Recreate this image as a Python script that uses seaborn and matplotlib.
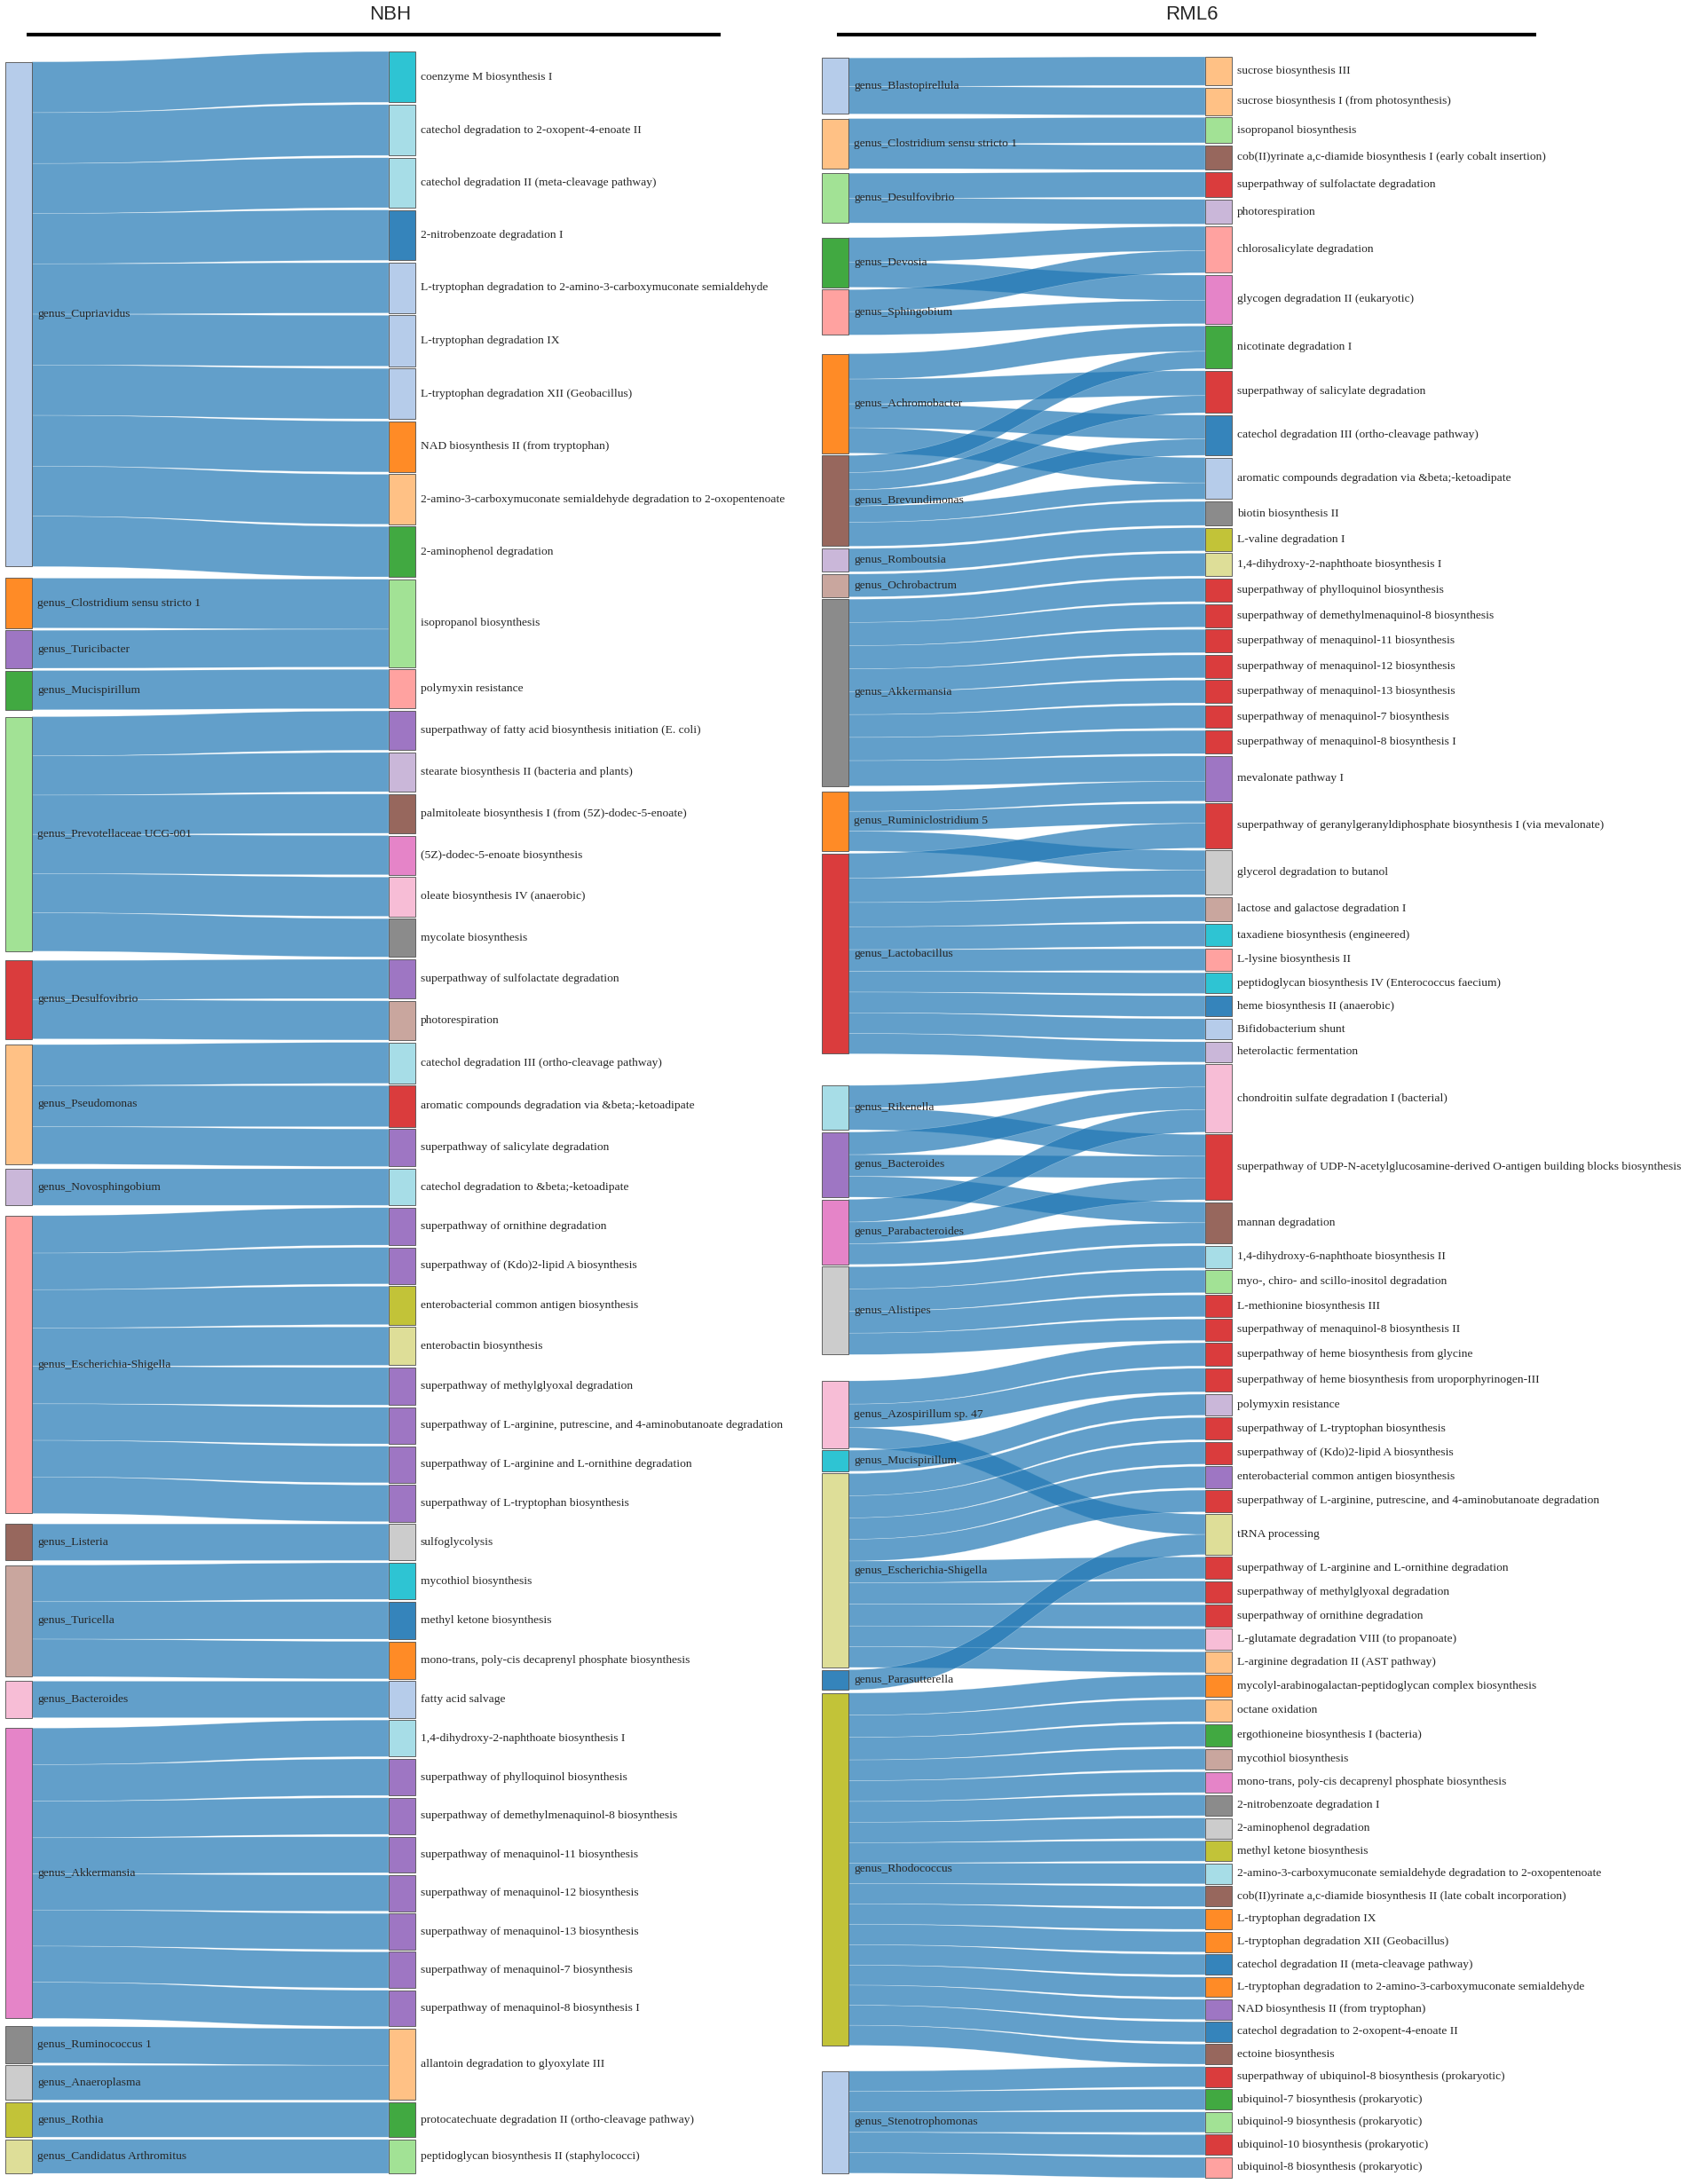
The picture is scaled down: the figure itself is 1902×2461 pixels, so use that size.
import numpy as np
import matplotlib
matplotlib.use("Agg")
import matplotlib.pyplot as plt
from matplotlib.path import Path
from matplotlib.patches import PathPatch, Rectangle
import seaborn as sns

# ---------------- NBH panel data ----------------
nbh_sources = [
    "genus_Cupriavidus", "genus_Clostridium sensu stricto 1", "genus_Turicibacter",
    "genus_Mucispirillum", "genus_Prevotellaceae UCG-001", "genus_Desulfovibrio",
    "genus_Pseudomonas", "genus_Novosphingobium", "genus_Escherichia-Shigella",
    "genus_Listeria", "genus_Turicella", "genus_Bacteroides", "genus_Akkermansia",
    "genus_Ruminococcus 1", "genus_Anaeroplasma", "genus_Rothia",
    "genus_Candidatus Arthromitus",
]
nbh_targets = [
    "coenzyme M biosynthesis I",
    "catechol degradation to 2-oxopent-4-enoate II",
    "catechol degradation II (meta-cleavage pathway)",
    "2-nitrobenzoate degradation I",
    "L-tryptophan degradation to 2-amino-3-carboxymuconate semialdehyde",
    "L-tryptophan degradation IX",
    "L-tryptophan degradation XII (Geobacillus)",
    "NAD biosynthesis II (from tryptophan)",
    "2-amino-3-carboxymuconate semialdehyde degradation to 2-oxopentenoate",
    "2-aminophenol degradation",
    "isopropanol biosynthesis",
    "polymyxin resistance",
    "superpathway of fatty acid biosynthesis initiation (E. coli)",
    "stearate biosynthesis II (bacteria and plants)",
    "palmitoleate biosynthesis I (from (5Z)-dodec-5-enoate)",
    "(5Z)-dodec-5-enoate biosynthesis",
    "oleate biosynthesis IV (anaerobic)",
    "mycolate biosynthesis",
    "superpathway of sulfolactate degradation",
    "photorespiration",
    "catechol degradation III (ortho-cleavage pathway)",
    "aromatic compounds degradation via &beta;-ketoadipate",
    "superpathway of salicylate degradation",
    "catechol degradation to &beta;-ketoadipate",
    "superpathway of ornithine degradation",
    "superpathway of (Kdo)2-lipid A biosynthesis",
    "enterobacterial common antigen biosynthesis",
    "enterobactin biosynthesis",
    "superpathway of methylglyoxal degradation",
    "superpathway of L-arginine, putrescine, and 4-aminobutanoate degradation",
    "superpathway of L-arginine and L-ornithine degradation",
    "superpathway of L-tryptophan biosynthesis",
    "sulfoglycolysis",
    "mycothiol biosynthesis",
    "methyl ketone biosynthesis",
    "mono-trans, poly-cis decaprenyl phosphate biosynthesis",
    "fatty acid salvage",
    "1,4-dihydroxy-2-naphthoate biosynthesis I",
    "superpathway of phylloquinol biosynthesis",
    "superpathway of demethylmenaquinol-8 biosynthesis",
    "superpathway of menaquinol-11 biosynthesis",
    "superpathway of menaquinol-12 biosynthesis",
    "superpathway of menaquinol-13 biosynthesis",
    "superpathway of menaquinol-7 biosynthesis",
    "superpathway of menaquinol-8 biosynthesis I",
    "allantoin degradation to glyoxylate III",
    "protocatechuate degradation II (ortho-cleavage pathway)",
    "peptidoglycan biosynthesis II (staphylococci)",
]
# (source index, target index, value)
nbh_links = [
    (0, 0, 57), (0, 1, 57), (0, 2, 56), (0, 3, 56.5), (0, 4, 56.5),
    (0, 5, 57), (0, 6, 56.5), (0, 7, 57), (0, 8, 56), (0, 9, 56.5),
    (1, 10, 56), (2, 10, 42.5),
    (3, 11, 44),
    (4, 12, 44), (4, 13, 44), (4, 14, 44), (4, 15, 44), (4, 16, 44), (4, 17, 43),
    (5, 18, 44), (5, 19, 44),
    (6, 20, 46), (6, 21, 46), (6, 22, 42),
    (7, 23, 41),
    (8, 24, 42), (8, 25, 41), (8, 26, 43), (8, 27, 43), (8, 28, 42),
    (8, 29, 41), (8, 30, 41), (8, 31, 41),
    (9, 32, 41),
    (10, 33, 41), (10, 34, 42), (10, 35, 42),
    (11, 36, 41),
    (12, 37, 41), (12, 38, 41), (12, 39, 41), (12, 40, 40.5), (12, 41, 40.5),
    (12, 42, 40.5), (12, 43, 40.5), (12, 44, 40.5),
    (13, 45, 41), (14, 45, 39),
    (15, 46, 39),
    (16, 47, 38),
]
nbh_source_colors = [1, 2, 8, 4, 5, 6, 3, 9, 7, 10, 11, 13, 12, 14, 15, 16, 17]
nbh_target_colors = [18, 19, 19, 0, 1, 1, 1, 2, 3, 4, 5, 7, 8, 9, 10, 12, 13, 14,
                     8, 11, 19, 6, 8, 19, 8, 8, 16, 17, 8, 8, 8, 8, 15, 18, 0, 2,
                     1, 19, 8, 8, 8, 8, 8, 8, 8, 3, 4, 5]

# ---------------- RML6 panel data ----------------
rml_sources = [
    "genus_Blastopirellula", "genus_Clostridium sensu stricto 1", "genus_Desulfovibrio",
    "genus_Devosia", "genus_Sphingobium", "genus_Achromobacter", "genus_Brevundimonas",
    "genus_Romboutsia", "genus_Ochrobactrum", "genus_Akkermansia",
    "genus_Ruminiclostridium 5", "genus_Lactobacillus", "genus_Rikenella",
    "genus_Bacteroides", "genus_Parabacteroides", "genus_Alistipes",
    "genus_Azospirillum sp. 47", "genus_Mucispirillum", "genus_Escherichia-Shigella",
    "genus_Parasutterella", "genus_Rhodococcus", "genus_Stenotrophomonas",
]
rml_targets = [
    "sucrose biosynthesis III",
    "sucrose biosynthesis I (from photosynthesis)",
    "isopropanol biosynthesis",
    "cob(II)yrinate a,c-diamide biosynthesis I (early cobalt insertion)",
    "superpathway of sulfolactate degradation",
    "photorespiration",
    "chlorosalicylate degradation",
    "glycogen degradation II (eukaryotic)",
    "nicotinate degradation I",
    "superpathway of salicylate degradation",
    "catechol degradation III (ortho-cleavage pathway)",
    "aromatic compounds degradation via &beta;-ketoadipate",
    "biotin biosynthesis II",
    "L-valine degradation I",
    "1,4-dihydroxy-2-naphthoate biosynthesis I",
    "superpathway of phylloquinol biosynthesis",
    "superpathway of demethylmenaquinol-8 biosynthesis",
    "superpathway of menaquinol-11 biosynthesis",
    "superpathway of menaquinol-12 biosynthesis",
    "superpathway of menaquinol-13 biosynthesis",
    "superpathway of menaquinol-7 biosynthesis",
    "superpathway of menaquinol-8 biosynthesis I",
    "mevalonate pathway I",
    "superpathway of geranylgeranyldiphosphate biosynthesis I (via mevalonate)",
    "glycerol degradation to butanol",
    "lactose and galactose degradation I",
    "taxadiene biosynthesis (engineered)",
    "L-lysine biosynthesis II",
    "peptidoglycan biosynthesis IV (Enterococcus faecium)",
    "heme biosynthesis II (anaerobic)",
    "Bifidobacterium shunt",
    "heterolactic fermentation",
    "chondroitin sulfate degradation I (bacterial)",
    "superpathway of UDP-N-acetylglucosamine-derived O-antigen building blocks biosynthesis",
    "mannan degradation",
    "1,4-dihydroxy-6-naphthoate biosynthesis II",
    "myo-, chiro- and scillo-inositol degradation",
    "L-methionine biosynthesis III",
    "superpathway of menaquinol-8 biosynthesis II",
    "superpathway of heme biosynthesis from glycine",
    "superpathway of heme biosynthesis from uroporphyrinogen-III",
    "polymyxin resistance",
    "superpathway of L-tryptophan biosynthesis",
    "superpathway of (Kdo)2-lipid A biosynthesis",
    "enterobacterial common antigen biosynthesis",
    "superpathway of L-arginine, putrescine, and 4-aminobutanoate degradation",
    "tRNA processing",
    "superpathway of L-arginine and L-ornithine degradation",
    "superpathway of methylglyoxal degradation",
    "superpathway of ornithine degradation",
    "L-glutamate degradation VIII (to propanoate)",
    "L-arginine degradation II (AST pathway)",
    "mycolyl-arabinogalactan-peptidoglycan complex biosynthesis",
    "octane oxidation",
    "ergothioneine biosynthesis I (bacteria)",
    "mycothiol biosynthesis",
    "mono-trans, poly-cis decaprenyl phosphate biosynthesis",
    "2-nitrobenzoate degradation I",
    "2-aminophenol degradation",
    "methyl ketone biosynthesis",
    "2-amino-3-carboxymuconate semialdehyde degradation to 2-oxopentenoate",
    "cob(II)yrinate a,c-diamide biosynthesis II (late cobalt incorporation)",
    "L-tryptophan degradation IX",
    "L-tryptophan degradation XII (Geobacillus)",
    "catechol degradation II (meta-cleavage pathway)",
    "L-tryptophan degradation to 2-amino-3-carboxymuconate semialdehyde",
    "NAD biosynthesis II (from tryptophan)",
    "catechol degradation to 2-oxopent-4-enoate II",
    "ectoine biosynthesis",
    "superpathway of ubiquinol-8 biosynthesis (prokaryotic)",
    "ubiquinol-7 biosynthesis (prokaryotic)",
    "ubiquinol-9 biosynthesis (prokaryotic)",
    "ubiquinol-10 biosynthesis (prokaryotic)",
    "ubiquinol-8 biosynthesis (prokaryotic)",
]
rml_links = [
    (0, 0, 31.6), (0, 1, 30.4),
    (1, 2, 28.1), (1, 3, 27.3),
    (2, 4, 27.7), (2, 5, 27.3),
    (3, 6, 27.0), (3, 7, 28.0),
    (4, 6, 24.4), (4, 7, 25.8),
    (5, 8, 28.0), (5, 9, 27.5), (5, 10, 26.5), (5, 11, 28.0),
    (6, 8, 19.0), (6, 9, 19.0), (6, 10, 18.0), (6, 11, 18.0), (6, 12, 26.5),
    (7, 13, 25.7),
    (8, 14, 25.3),
    (9, 15, 25.7), (9, 16, 25.7), (9, 17, 25.7), (9, 18, 25.3), (9, 19, 25.3),
    (9, 20, 25.3), (9, 21, 25.7), (9, 22, 28.0),
    (10, 22, 22.0), (10, 23, 22.0), (10, 24, 22.0),
    (11, 23, 27.4), (11, 24, 27.0), (11, 25, 26.9), (11, 26, 25.3), (11, 27, 24.1),
    (11, 28, 22.9), (11, 29, 22.9), (11, 30, 22.9), (11, 31, 22.5),
    (12, 32, 25.0), (12, 33, 24.1),
    (13, 32, 25.0), (13, 33, 24.1), (13, 34, 22.9),
    (14, 32, 25.0), (14, 33, 24.1), (14, 34, 22.9),
    (15, 35, 24.5), (15, 36, 24.9), (15, 37, 24.1), (15, 38, 23.7),
    (16, 39, 25.7), (16, 40, 26.1), (16, 46, 22.4),
    (17, 41, 23.3),
    (18, 42, 24.5), (18, 43, 24.5), (18, 44, 23.7), (18, 45, 24.1), (18, 47, 24.1),
    (18, 48, 23.7), (18, 49, 24.1), (18, 50, 22.9), (18, 51, 23.0),
    (19, 46, 22.3),
    (20, 52, 24.6), (20, 53, 24.6), (20, 54, 24.9), (20, 55, 23.0), (20, 56, 23.0),
    (20, 57, 23.0), (20, 58, 22.6), (20, 59, 22.6), (20, 60, 22.6), (20, 61, 22.6),
    (20, 62, 22.6), (20, 63, 22.6), (20, 64, 22.6), (20, 65, 22.2), (20, 66, 22.2),
    (20, 67, 22.2), (20, 68, 22.2),
    (21, 69, 22.6), (21, 70, 22.6), (21, 71, 22.6), (21, 72, 22.6), (21, 73, 22.6),
]
rml_source_colors = [1, 3, 5, 4, 7, 2, 10, 9, 11, 14, 2, 6, 19, 8, 12, 15, 13, 18,
                     17, 0, 16, 1]
rml_target_colors = [3, 3, 5, 10, 6, 9, 7, 12, 4, 6, 0, 1, 14, 16, 17,
                     6, 6, 6, 6, 6, 6, 6, 8, 6, 15, 11, 18, 7, 18, 0, 1, 9,
                     13, 6, 10, 19, 5, 6, 6, 6, 6, 9, 6, 6, 8, 6, 17, 6, 6, 6,
                     13, 3, 2, 3, 4, 11, 12, 14, 15, 16, 19, 10, 2, 2, 0, 2, 8,
                     0, 10, 6, 4, 5, 6, 7]

# ---------------- style ----------------
sns.set_style("white")
palette = sns.color_palette("tab20")
plt.rcParams["font.family"] = ["Liberation Serif", "DejaVu Serif"]

W, H = 1902, 2461
fig = plt.figure(figsize=(W / 100, H / 100), dpi=100)
ax = fig.add_axes([0, 0, 1, 1])
ax.set_xlim(0, W)
ax.set_ylim(H, 0)
ax.axis("off")

LINK_COLOR = (31 / 255, 119 / 255, 180 / 255, 0.7)
NODE_W = 30
PAD = 2.6


def layout(n_src, n_tgt, links, top, bottom, pad):
    tval = np.zeros(n_tgt)
    sval = np.zeros(n_src)
    n_in = np.zeros(n_tgt)
    for s, t, v in links:
        tval[t] += v
        sval[s] += v
        n_in[t] += 1
    ky = (bottom - top - (n_tgt - 1) * pad) / tval.sum()
    th = tval * ky
    ty0 = top + np.concatenate([[0], np.cumsum(th + pad)[:-1]])
    sh = sval * ky

    # where each link sits inside its source / target
    order_s = sorted(range(len(links)), key=lambda k: (links[k][0], links[k][1]))
    order_t = sorted(range(len(links)), key=lambda k: (links[k][1], links[k][0]))
    s_off = np.zeros(n_src)
    s_rel = {}
    for k in order_s:
        s, t, v = links[k]
        s_rel[k] = s_off[s]
        s_off[s] += v * ky
    t_off = ty0.copy()
    t_abs = {}
    for k in order_t:
        s, t, v = links[k]
        t_abs[k] = t_off[t]
        t_off[t] += v * ky

    # ideal source top: the one that makes its links as level as possible
    run = ty0 - (n_in - 1) * pad / 2
    num = np.zeros(n_src)
    for k in order_t:
        s, t, v = links[k]
        num[s] += v * (run[t] - s_rel[k])
        run[t] += v * ky + pad
    sy0 = num / sval

    # push overlapping sources down, then back up from the bottom
    y = top
    for i in range(n_src):
        sy0[i] = max(sy0[i], y)
        y = sy0[i] + sh[i] + pad
    y = bottom
    for i in reversed(range(n_src)):
        if sy0[i] + sh[i] > y:
            sy0[i] = y - sh[i]
        y = sy0[i] - pad
    s_abs = {k: sy0[links[k][0]] + s_rel[k] for k in range(len(links))}
    return ky, sy0, sh, ty0, th, s_abs, t_abs


def band(x0, x1, a0, a1, b0, b1):
    xm = (x0 + x1) / 2
    verts = [(x0, a0), (xm, a0), (xm, b0), (x1, b0), (x1, b1),
             (xm, b1), (xm, a1), (x0, a1), (x0, a0)]
    codes = [Path.MOVETO, Path.CURVE4, Path.CURVE4, Path.CURVE4, Path.LINETO,
             Path.CURVE4, Path.CURVE4, Path.CURVE4, Path.CLOSEPOLY]
    return Path(verts, codes)


def draw_sankey(sources, targets, links, scol, tcol, xs, xt, top, bottom):
    ky, sy0, sh, ty0, th, s_abs, t_abs = layout(len(sources), len(targets),
                                                links, top, bottom, PAD)
    for k, (s, t, v) in enumerate(links):
        w = v * ky
        p = band(xs + NODE_W, xt, s_abs[k], s_abs[k] + w, t_abs[k], t_abs[k] + w)
        ax.add_patch(PathPatch(p, facecolor=LINK_COLOR, edgecolor=(1, 1, 1, 0.35),
                               lw=0.4))
    for i, name in enumerate(sources):
        ax.add_patch(Rectangle((xs, sy0[i]), NODE_W, sh[i], facecolor=palette[scol[i]],
                               alpha=0.9, edgecolor="#555555", lw=0.7))
        ax.text(xs + NODE_W + 6, sy0[i] + sh[i] / 2, name, fontsize=9.7,
                ha="left", va="center")
    for j, name in enumerate(targets):
        ax.add_patch(Rectangle((xt, ty0[j]), NODE_W, th[j], facecolor=palette[tcol[j]],
                               alpha=0.9, edgecolor="#555555", lw=0.7))
        ax.text(xt + NODE_W + 6, ty0[j] + th[j] / 2, name, fontsize=9.7,
                ha="left", va="center")


draw_sankey(nbh_sources, nbh_targets, nbh_links, nbh_source_colors,
            nbh_target_colors, 6, 438, 58, 2449)
draw_sankey(rml_sources, rml_targets, rml_links, rml_source_colors,
            rml_target_colors, 926, 1358, 64, 2454)

# panel titles with rule underneath
for title, x0, x1, xc in [("NBH", 30, 812, 440), ("RML6", 943, 1731, 1343)]:
    ax.plot([x0, x1], [39, 39], color="black", lw=3, solid_capstyle="butt")
    ax.text(xc, 16, title, fontsize=16, ha="center", va="center",
            family=["Liberation Sans", "DejaVu Sans"])

fig.savefig("out.png", dpi=100)
